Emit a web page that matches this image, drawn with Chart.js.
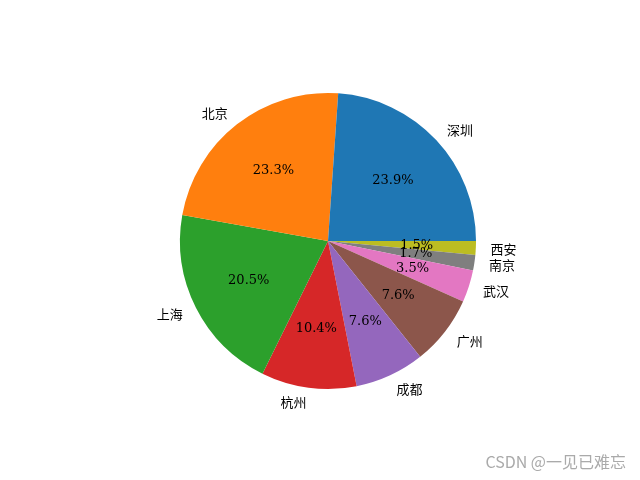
<!DOCTYPE html>
<html><head><meta charset="utf-8">
<script src="https://cdn.jsdelivr.net/npm/chart.js@4"></script>
<style>body{margin:0;background:#fff}#w{width:640px;height:480px;position:relative}</style>
</head><body><div id="w"><canvas id="c"></canvas></div>
<script>
const cities = ['深圳','北京','上海','杭州','成都','广州','武汉','南京','西安'];
const shares = [23.9,23.3,20.5,10.4,7.6,7.6,3.5,1.7,1.5];
const colors = ['#1f77b4','#ff7f0e','#2ca02c','#d62728','#9467bd','#8c564b','#e377c2','#7f7f7f','#bcbd22'];
const labelsR = cities.slice().reverse();
const dataR = shares.slice().reverse();
const colorsR = colors.slice().reverse();
const textPlugin = {
  id:'txt',
  afterDraw(chart){
    const ctx = chart.ctx;
    const arcs = chart.getDatasetMeta(0).data;
    ctx.save();
    ctx.textBaseline='middle';
    arcs.forEach((a,i)=>{
      const m=(a.startAngle+a.endAngle)/2, r=a.outerRadius;
      const c=Math.cos(m), s=Math.sin(m);
      ctx.fillStyle='#000';
      ctx.font='13px "Noto Sans CJK SC"';
      ctx.textAlign = c>0?'left':'right';
      ctx.fillText(labelsR[i], a.x+1.1*r*c, a.y+1.1*r*s);
      ctx.font='13px "DejaVu Serif"';
      ctx.textAlign='center';
      ctx.fillText(dataR[i].toFixed(1)+'%', a.x+0.6*r*c, a.y+0.6*r*s);
    });
    ctx.font='16px "Noto Sans CJK SC"';
    ctx.fillStyle='#aaaaaa';
    ctx.textAlign='right';
    ctx.fillText('CSDN @一见已难忘', 626, 462);
    ctx.restore();
  }
};
new Chart(document.getElementById('c'),{
  type:'pie',
  data:{labels:labelsR,datasets:[{data:dataR,backgroundColor:colorsR,borderWidth:0}]},
  options:{responsive:true,maintainAspectRatio:false,animation:false,rotation:90,
    layout:{padding:{left:16,right:0,top:93,bottom:91}},
    plugins:{legend:{display:false},tooltip:{enabled:false}}},
  plugins:[textPlugin]
});
</script></body></html>
